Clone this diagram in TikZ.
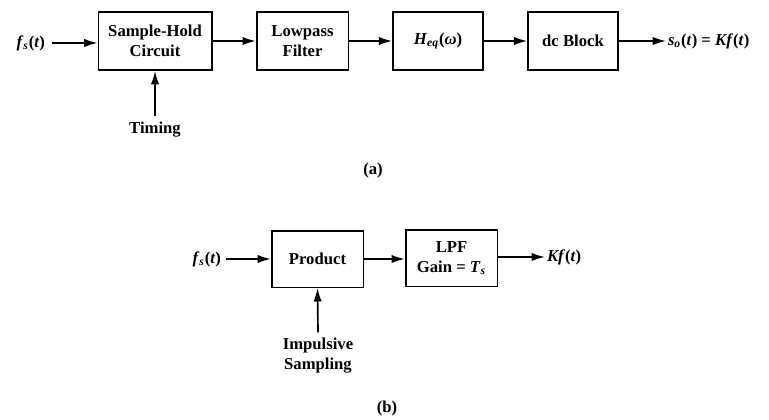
\documentclass[tikz,border=0pt]{standalone}
\usepackage{fontspec}
\setmainfont{Liberation Serif}
\usetikzlibrary{arrows.meta}

% corsivo con pedice, nel font del testo
\newcommand{\varsub}[2]{\textit{#1}\textsubscript{\textit{#2}}}

\tikzset{
    blocco/.style={draw, line width=1pt, align=center, inner sep=2pt,
        font=\bfseries, minimum height=35pt},
    freccia/.style={line width=1pt, -{Latex[length=8pt,width=5pt]}},
    etichetta/.style={font=\bfseries, align=center, inner sep=1pt}
}

\begin{document}
\begin{tikzpicture}[x=0.6pt, y=-0.6pt]
    \useasboundingbox (0,0) rectangle (769,420);

    % (a) Ricostruzione con sample-hold
    \node[blocco, minimum width=68pt] (sh) at (155,41) {Sample-Hold\\Circuit};
    \node[blocco, minimum width=55pt] (lpf) at (302.5,41) {Lowpass\\Filter};
    \node[blocco, minimum width=54pt] (heq) at (438,41) {\varsub{H}{eq}(\textit{ω})};
    \node[blocco, minimum width=54pt] (dc) at (573,41) {dc Block};

    % Ingresso e uscita
    \node[etichetta, anchor=east] (ina) at (47,43) {\varsub{f}{s}(\textit{t})};
    \node[etichetta, anchor=west] (outa) at (666,41) {\varsub{s}{o}(\textit{t}) = \textit{Kf}(\textit{t})};
    \node[etichetta] (tim) at (155,130) {Timing};
    \node[etichetta] (capa) at (373,170) {(a)};

    % Collegamenti
    \draw[freccia] (ina.east) ++(5,0) -- (sh.west |- ina.east);
    \draw[freccia] (sh) -- (lpf);
    \draw[freccia] (lpf) -- (heq);
    \draw[freccia] (heq) -- (dc);
    \draw[freccia] (dc.east) -- (outa.west);
    \draw[freccia] (tim.north) ++(0,-4) -- (sh.south);

    % (b) Modello con campionamento impulsivo
    \node[blocco, minimum width=55pt, minimum height=34pt] (prod) at (317.5,259) {Product};
    \node[blocco, minimum width=55pt, minimum height=34pt] (lpfb) at (451.5,258) {LPF\\Gain = \varsub{T}{s}};

    % Ingresso e uscita
    \node[etichetta, anchor=east] (inb) at (223,259) {\varsub{f}{s}(\textit{t})};
    \node[etichetta, anchor=west] (outb) at (545,257) {\textit{Kf}(\textit{t})};
    \node[etichetta] (imp) at (318,356) {Impulsive\\Sampling};
    \node[etichetta] (capb) at (387,408) {(b)};

    % Collegamenti
    \draw[freccia] (inb.east) ++(3,0) -- (prod.west |- inb.east);
    \draw[freccia] (prod.east) -- (prod.east -| lpfb.west);
    \draw[freccia] (lpfb.east |- outb.west) -- (outb.west);
    \draw[freccia] (imp.north) ++(0,-4) -- (prod.south);
\end{tikzpicture}
\end{document}
